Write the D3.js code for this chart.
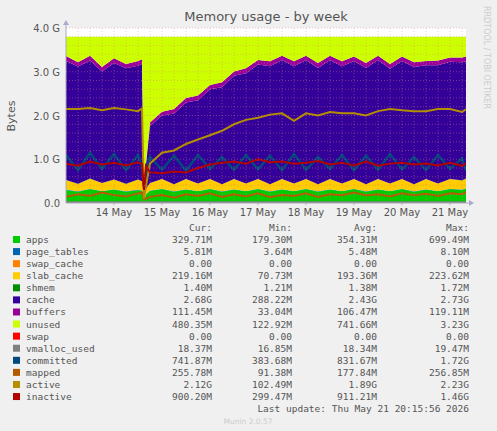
<!DOCTYPE html>
<html><head><meta charset="utf-8">
<script src="https://cdn.jsdelivr.net/npm/d3@7"></script>
<style>body{margin:0;background:#f0f0f0}svg{display:block;font-family:"DejaVu Sans",sans-serif}</style>
</head><body><svg id="c" width="497" height="431"></svg>
<script>
// hours since 13 May 00:00
const hours = [0,6,12,18,24,30,36,38,39,40,42,48,54,60,66,72,78,84,90,96,102,108,114,120,126,132,138,144,150,156,162,168,174,180,186,192,198,200];
// values in GB
const apps       = [0.30,0.26,0.32,0.27,0.31,0.26,0.30,0.28,0.05,0.20,0.28,0.32,0.26,0.31,0.27,0.32,0.26,0.31,0.27,0.32,0.26,0.31,0.27,0.32,0.26,0.31,0.27,0.32,0.26,0.31,0.27,0.32,0.26,0.31,0.27,0.32,0.30,0.33];
const pageTables = [0.006,0.006,0.006,0.006,0.006,0.006,0.006,0.006,0.004,0.005,0.006,0.006,0.006,0.006,0.006,0.006,0.006,0.006,0.006,0.006,0.006,0.006,0.006,0.006,0.006,0.006,0.006,0.006,0.006,0.006,0.006,0.006,0.006,0.006,0.006,0.006,0.006,0.006];
const swapCache  = [0,0,0,0,0,0,0,0,0,0,0,0,0,0,0,0,0,0,0,0,0,0,0,0,0,0,0,0,0,0,0,0,0,0,0,0,0,0];
const slabCache  = [0.22,0.17,0.23,0.18,0.22,0.17,0.23,0.21,0.07,0.12,0.17,0.22,0.16,0.23,0.17,0.22,0.16,0.23,0.17,0.22,0.16,0.23,0.17,0.22,0.16,0.23,0.17,0.22,0.16,0.23,0.17,0.22,0.16,0.23,0.17,0.22,0.21,0.22];
const shmem      = [0.0014,0.0014,0.0014,0.0014,0.0014,0.0014,0.0014,0.0014,0.0012,0.0013,0.0014,0.0014,0.0014,0.0014,0.0014,0.0014,0.0014,0.0014,0.0014,0.0014,0.0014,0.0014,0.0014,0.0014,0.0014,0.0014,0.0014,0.0014,0.0014,0.0014,0.0014,0.0014,0.0014,0.0014,0.0014,0.0014,0.0014,0.0014];
const cache      = [2.72,2.68,2.70,2.55,2.66,2.64,2.60,2.68,0.10,0.55,1.30,1.45,1.62,1.75,1.90,2.05,2.22,2.36,2.52,2.62,2.70,2.72,2.68,2.72,2.66,2.72,2.68,2.70,2.66,2.72,2.62,2.70,2.68,2.60,2.70,2.68,2.70,2.68];
const buffers    = [0.11,0.10,0.11,0.10,0.11,0.10,0.11,0.11,0.03,0.05,0.08,0.09,0.10,0.10,0.11,0.10,0.11,0.10,0.11,0.10,0.11,0.10,0.11,0.10,0.11,0.10,0.11,0.10,0.11,0.10,0.11,0.10,0.11,0.10,0.11,0.10,0.11,0.11];
const unused     = [0.44,0.58,0.43,0.69,0.49,0.62,0.55,0.51,3.55,2.87,1.96,1.71,1.65,1.40,1.34,1.10,1.04,0.79,0.72,0.53,0.56,0.43,0.56,0.43,0.60,0.43,0.56,0.45,0.60,0.43,0.62,0.45,0.58,0.55,0.54,0.47,0.47,0.45];
const swap       = [0,0,0,0,0,0,0,0,0,0,0,0,0,0,0,0,0,0,0,0,0,0,0,0,0,0,0,0,0,0,0,0,0,0,0,0,0,0];
const vmalloc    = [0.018,0.018,0.018,0.018,0.018,0.018,0.018,0.018,0.017,0.018,0.018,0.018,0.018,0.018,0.018,0.018,0.018,0.018,0.018,0.018,0.018,0.018,0.018,0.018,0.018,0.018,0.018,0.018,0.018,0.018,0.018,0.018,0.018,0.018,0.018,0.018,0.018,0.018];
const committed  = [1.10,0.75,1.15,0.78,1.12,0.75,1.10,0.80,0.40,0.70,1.05,0.76,1.08,0.74,1.10,0.78,1.05,0.76,1.10,0.77,1.08,0.75,1.12,0.76,1.05,0.78,1.10,0.75,1.08,0.76,1.12,0.77,1.05,0.75,1.10,0.78,1.02,0.74];
const mapped     = [0.14,0.20,0.16,0.24,0.18,0.15,0.22,0.24,0.08,0.10,0.14,0.18,0.12,0.20,0.16,0.22,0.14,0.20,0.15,0.22,0.13,0.18,0.16,0.22,0.14,0.20,0.18,0.24,0.17,0.20,0.15,0.22,0.18,0.21,0.16,0.22,0.20,0.25];
const active     = [2.15,2.15,2.17,2.12,2.17,2.14,2.10,2.16,0.10,0.40,0.90,1.15,1.20,1.35,1.45,1.55,1.65,1.80,1.90,1.95,2.02,2.05,1.88,2.05,2.00,2.08,2.05,2.05,2.00,2.10,2.15,2.12,2.10,2.10,2.15,2.15,2.08,2.14];
const inactive   = [0.90,0.85,0.95,0.88,0.92,0.86,0.93,0.90,0.30,0.85,0.70,0.68,0.72,0.70,0.80,0.88,0.92,0.95,0.90,1.00,0.93,0.95,0.90,0.92,0.96,0.88,0.92,0.86,0.95,0.85,0.90,0.92,0.88,0.90,0.86,0.92,0.85,0.90];

const legendNames = ["apps","page_tables","swap_cache","slab_cache","shmem","cache","buffers","unused","swap","vmalloc_used","committed","mapped","active","inactive"];
const legendColors = ["#00CC00","#0066B3","#FF8000","#FFCC00","#008F00","#330099","#990099","#CCFF00","#FF0000","#808080","#00487D","#B35A00","#B38F00","#B30000"];
const curVals = ["329.71M","5.81M","0.00","219.16M","1.40M","2.68G","111.45M","480.35M","0.00","18.37M","741.87M","255.78M","2.12G","900.20M"];
const minVals = ["179.30M","3.64M","0.00","70.73M","1.21M","288.22M","33.04M","122.92M","0.00","16.85M","383.68M","91.38M","102.49M","299.47M"];
const avgVals = ["354.31M","5.48M","0.00","193.36M","1.38M","2.43G","106.47M","741.66M","0.00","18.34M","831.67M","177.84M","1.89G","911.21M"];
const maxVals = ["699.49M","8.10M","0.00","223.62M","1.72M","2.73G","119.11M","3.23G","0.00","19.47M","1.72G","256.85M","2.23G","1.46G"];
const yTicks = [0,1,2,3,4];
const yTickLabels = ["0.0","1.0 G","2.0 G","3.0 G","4.0 G"];
const dayTicks = [24,48,72,96,120,144,168,192];
const dayLabels = ["14 May","15 May","16 May","17 May","18 May","19 May","20 May","21 May"];

const svg = d3.select("#c");
const L=66,R=466,T=28,B=203;
const x = d3.scaleLinear().domain([0,200]).range([L,R]);
const y = d3.scaleLinear().domain([0,4]).range([B,T]);

svg.append("rect").attr("x",L).attr("y",T).attr("width",R-L).attr("height",B-T).attr("fill","#fff");
svg.append("clipPath").attr("id","pc").append("rect").attr("x",L).attr("y",T).attr("width",R-L).attr("height",B-T);

const stackSeries=[apps,pageTables,swapCache,slabCache,shmem,cache,buffers,unused];
const rows = hours.map((h,i)=>{const o={h};stackSeries.forEach((s,k)=>o["s"+k]=s[i]);return o;});
const stk = d3.stack().keys(stackSeries.map((s,k)=>"s"+k))(rows);
const g = svg.append("g").attr("clip-path","url(#pc)");
const area = d3.area().x(d=>x(d.data.h)).y0(d=>y(d[0])).y1(d=>y(d[1]));
stk.forEach((l,k)=>g.append("path").attr("d",area(l)).attr("fill",legendColors[k]));

const gg = svg.append("g");
for(let v=0.2;v<4.01;v+=0.2){gg.append("line").attr("x1",L).attr("x2",R).attr("y1",y(v)).attr("y2",y(v)).attr("stroke","#e08080").attr("stroke-dasharray","1,2").attr("stroke-width",0.6).attr("opacity",0.7);}
for(let h=6;h<200;h+=6){gg.append("line").attr("x1",x(h)).attr("x2",x(h)).attr("y1",T).attr("y2",B).attr("stroke","#e08080").attr("stroke-dasharray","1,2").attr("stroke-width",0.6).attr("opacity",0.7);}

const lineSeries=[swap,vmalloc,committed,mapped,active,inactive];
const line=d3.line().x((d,i)=>x(hours[i])).y(d=>y(d));
lineSeries.forEach((s,k)=>g.append("path").attr("d",line(s)).attr("fill","none").attr("stroke",legendColors[8+k]).attr("stroke-width",k==2?2.5:2));

svg.append("line").attr("x1",L).attr("x2",R+6).attr("y1",B).attr("y2",B).attr("stroke","#aab").attr("stroke-width",1);
svg.append("line").attr("x1",L).attr("x2",L).attr("y1",T-6).attr("y2",B).attr("stroke","#aab").attr("stroke-width",1);
svg.append("path").attr("d",`M${R+3},${B-3}L${R+8},${B}L${R+3},${B+3}Z`).attr("fill","#aac");
svg.append("path").attr("d",`M${L-3},${T-3}L${L},${T-8}L${L+3},${T-3}Z`).attr("fill","#aac");
yTicks.forEach((v,i)=>{svg.append("text").attr("x",L-6).attr("y",y(v)+4).attr("text-anchor","end").attr("font-size",10).attr("fill","#555").text(yTickLabels[i]);});
dayTicks.forEach((h,i)=>{svg.append("line").attr("x1",x(h)).attr("x2",x(h)).attr("y1",B).attr("y2",B+2).attr("stroke","#aab");
 svg.append("text").attr("x",x(h)).attr("y",B+13).attr("text-anchor","middle").attr("font-size",10).attr("fill","#555").text(dayLabels[i]);});
svg.append("text").attr("transform","translate(15,116) rotate(-90)").attr("text-anchor","middle").attr("font-size",11).attr("fill","#555").text("Bytes");
svg.append("text").attr("x",266).attr("y",21).attr("text-anchor","middle").attr("font-size",13).attr("fill","#555").text("Memory usage - by week");
svg.append("text").attr("transform","translate(484,6) rotate(90)").attr("font-size",8).attr("fill","#ccc").text("RRDTOOL / TOBI OETIKER");

const mono='"DejaVu Sans Mono",monospace';
const colX=[212,292,377,469], hdr=["Cur:","Min:","Avg:","Max:"];
hdr.forEach((t,i)=>svg.append("text").attr("x",colX[i]).attr("y",231).attr("text-anchor","end").attr("font-family",mono).attr("font-size",9.5).attr("fill","#555").text(t));
legendNames.forEach((n,i)=>{const yy=243+i*12.08;
 svg.append("rect").attr("x",13).attr("y",yy-7).attr("width",7).attr("height",7).attr("fill",legendColors[i]);
 svg.append("text").attr("x",26).attr("y",yy).attr("font-family",mono).attr("font-size",9.5).attr("fill","#555").text(n);
 [curVals,minVals,avgVals,maxVals].forEach((a,k)=>svg.append("text").attr("x",colX[k]).attr("y",yy).attr("text-anchor","end").attr("font-family",mono).attr("font-size",9.5).attr("fill","#555").text(a[i]));
});
svg.append("text").attr("x",469).attr("y",412).attr("text-anchor","end").attr("font-family",mono).attr("font-size",9.5).attr("fill","#555").text("Last update: Thu May 21 20:15:56 2026");
svg.append("text").attr("x",248).attr("y",424).attr("text-anchor","middle").attr("font-size",7.5).attr("fill","#ccc").text("Munin 2.0.57");
</script></body></html>
